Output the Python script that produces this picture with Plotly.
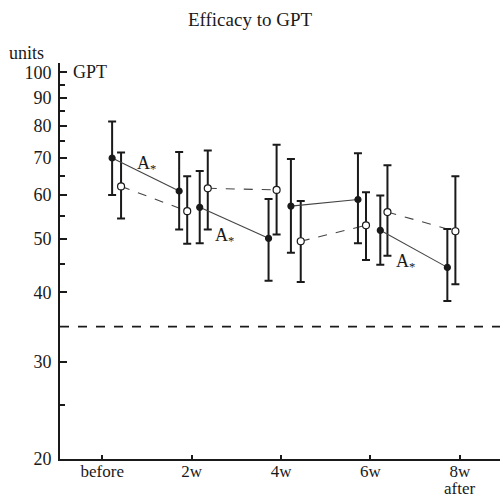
import plotly.graph_objects as go
import math

# ---- data ----
categories = ["before", "2w", "4w", "6w", "8w"]
last_sublabel = "after"

# Filled (solid line) series, four segments: [start, end] pairs
filled_start_cat = [0, 1, 2, 3]
filled_start_val = [70.0, 57.0, 57.3, 51.8]
filled_start_hi = [81.5, 66.3, 69.7, 59.9]
filled_start_lo = [60.0, 49.1, 47.2, 44.9]
filled_end_val = [61.0, 50.1, 58.9, 44.4]
filled_end_hi = [71.8, 59.0, 71.4, 52.1]
filled_end_lo = [52.0, 42.0, 49.1, 38.6]

# Open (dashed line) series
open_start_val = [62.2, 61.7, 49.5, 55.9]
open_start_hi = [71.6, 72.2, 58.5, 67.9]
open_start_lo = [54.4, 52.0, 41.8, 46.6]
open_end_val = [56.1, 61.3, 52.9, 51.6]
open_end_hi = [64.9, 74.0, 60.7, 64.9]
open_end_lo = [49.0, 50.9, 45.8, 41.4]

reference_level = 34.7
y_ticks = [20, 30, 40, 50, 60, 70, 80, 90, 100]
y_minor = [25, 45, 55, 65, 75, 85, 95]

# ---- style ----
FONT = "Liberation Serif"
INK = "#1a1a1a"
FS = 18
XFS = 17
off_fs, off_os = [0.11, 0.09, 0.11, 0.11], [0.21, 0.18, 0.22, 0.19]
off_fe, off_oe = -0.14, -0.05

fig = go.Figure()

def add_seg(x0, x1, v0, v1, hi0, hi1, lo0, lo1, filled):
    fig.add_trace(go.Scatter(
        x=[x0, x1], y=[v0, v1], mode="lines+markers",
        line=dict(color="#444444", width=1.1, dash="solid" if filled else "dash"),
        marker=dict(size=6 if filled else 7,
                    color=INK if filled else "white",
                    line=dict(color=INK, width=1.2)),
        error_y=dict(type="data", symmetric=False,
                     array=[hi0 - v0, hi1 - v1],
                     arrayminus=[v0 - lo0, v1 - lo1],
                     color=INK, thickness=2, width=4),
        showlegend=False, hoverinfo="skip"))

for i in range(4):
    c0 = filled_start_cat[i]
    add_seg(c0 + off_os[i], c0 + 1 + off_oe,
            open_start_val[i], open_end_val[i],
            open_start_hi[i], open_end_hi[i],
            open_start_lo[i], open_end_lo[i], False)
    add_seg(c0 + off_fs[i], c0 + 1 + off_fe,
            filled_start_val[i], filled_end_val[i],
            filled_start_hi[i], filled_end_hi[i],
            filled_start_lo[i], filled_end_lo[i], True)

# horizontal reference dashed line
fig.add_shape(type="line", xref="paper", x0=0, x1=1, yref="y",
              y0=reference_level, y1=reference_level,
              line=dict(color=INK, width=1.6, dash="dash"))

annots = [
    dict(x=0.5, y=1.8326),
    dict(x=1.37, y=1.7024),
    dict(x=3.39, y=1.6554),
]
for a in annots:
    fig.add_annotation(x=a["x"], y=a["y"], xref="x", yref="y",
                       text="A<sub>*</sub>", showarrow=False,
                       font=dict(family=FONT, size=FS, color=INK))

fig.add_annotation(x=0.025, y=2.0, xref="paper", yref="y", xanchor="left",
                   yanchor="middle", text="GPT", showarrow=False,
                   font=dict(family=FONT, size=FS, color=INK))
fig.add_annotation(x=-0.077, y=1.025, xref="paper", yref="paper",
                   xanchor="center", yanchor="middle",
                   text="units", showarrow=False,
                   font=dict(family=FONT, size=FS, color=INK))
# second line of the last x label
fig.add_annotation(x=len(categories) - 1, y=0, xref="x", yref="paper",
                   xanchor="center", yanchor="middle", yshift=-29,
                   text=last_sublabel, showarrow=False,
                   font=dict(family=FONT, size=XFS, color=INK))

fig.update_layout(
    width=500, height=497,
    margin=dict(l=60, r=0, t=63, b=38, autoexpand=False),
    paper_bgcolor="white", plot_bgcolor="white",
    font=dict(family=FONT, size=FS, color=INK),
    title=dict(text="Efficacy to GPT", x=0.5, xanchor="center",
               y=1 - 19 / 497, yanchor="middle",
               font=dict(family=FONT, size=19, color=INK)),
    xaxis=dict(range=[-0.473, 4.449], tickmode="array",
               tickvals=list(range(len(categories))), ticktext=categories,
               tickfont=dict(family=FONT, size=XFS, color=INK),
               ticks="inside", ticklen=4, tickwidth=1.5, tickcolor=INK,
               ticklabelstandoff=-4,
               showline=True, linecolor=INK, linewidth=2,
               showgrid=False, zeroline=False, automargin=False),
    yaxis=dict(type="log", range=[math.log10(20), 2.0168],
               tickmode="array", tickvals=y_ticks,
               ticktext=[str(v) for v in y_ticks],
               ticks="inside", ticklen=7, tickwidth=2, tickcolor=INK,
               ticklabelstandoff=3,
               minor=dict(tickmode="array", tickvals=y_minor,
                          ticks="inside", ticklen=5, tickwidth=1.5,
                          tickcolor=INK, showgrid=False),
               showline=True, linecolor=INK, linewidth=2,
               showgrid=False, zeroline=False, automargin=False),
)

fig.write_html("out.html", config={"displayModeBar": False},
               post_script="document.body.style.margin='0px';document.body.style.overflow='hidden';")
